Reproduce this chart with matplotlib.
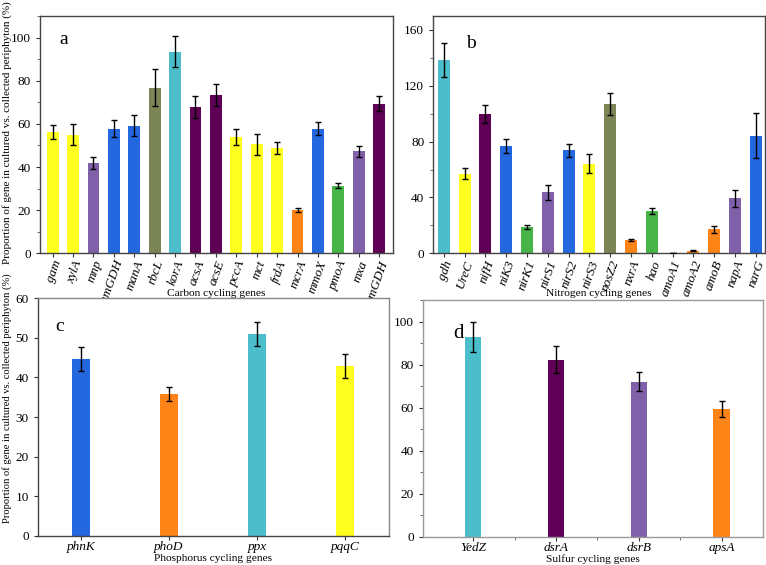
import numpy as np
import matplotlib
matplotlib.use("Agg")
import matplotlib.pyplot as plt
from matplotlib.ticker import MultipleLocator, FixedLocator

plt.rcParams['font.family'] = ['Liberation Serif', 'DejaVu Serif']

# colours used in the figure
Y = "#FFFF1F"
PU = "#8060A8"
BL = "#2468E0"
OL = "#7C8556"
CY = "#4BBDCB"
DP = "#5F0056"
OR = "#FF8418"
GR = "#47B447"

# a - carbon
carbon_genes = ["gam", "xylA", "mnp", "gmGDH", "manA", "rbcL", "korA", "acsA", "acsE",
                "pccA", "mct", "frdA", "mcrA", "mmoX", "pmoA", "mxa", "emGDH"]
carbon_vals = [56.2, 55.0, 41.8, 57.8, 59.2, 76.8, 93.5, 67.8, 73.3,
               53.8, 50.5, 48.8, 20.2, 57.8, 31.4, 47.2, 69.4]
carbon_err = [3.3, 5.0, 2.7, 4.0, 5.0, 8.6, 7.2, 5.2, 5.0,
              3.6, 5.0, 3.0, 1.0, 3.0, 1.3, 2.6, 3.3]
carbon_cols = [Y, Y, PU, BL, BL, OL, CY, DP, DP, Y, Y, Y, OR, BL, GR, PU, DP]

# b - nitrogen
nitro_genes = ["gdh", "UreC", "nifH", "niK3", "nirK1", "nirS1", "nirS2", "nirS3", "nosZ2",
               "nxrA", "hao", "amoA1", "amoA2", "amoB", "napA", "narG"]
nitro_vals = [138.6, 57.1, 99.7, 76.6, 18.8, 43.8, 73.8, 64.3, 106.9,
              9.3, 30.2, 0.0, 2.0, 17.1, 39.3, 84.3]
nitro_err = [12.0, 4.0, 6.7, 5.0, 1.5, 5.3, 4.8, 7.0, 8.0,
             0.6, 2.0, 0.0, 0.5, 2.2, 5.8, 16.3]
nitro_cols = [CY, Y, DP, BL, GR, PU, BL, Y, OL, OR, GR, OR, OR, OR, PU, BL]

# c - phosphorus
phos_genes = ["phnK", "phoD", "ppx", "pqqC"]
phos_vals = [44.6, 35.8, 51.0, 42.9]
phos_err = [3.0, 1.7, 3.1, 3.1]
phos_cols = [BL, OR, CY, Y]

# d - sulfur
sulf_genes = ["YedZ", "dsrA", "dsrB", "apsA"]
sulf_vals = [92.9, 82.3, 72.1, 59.4]
sulf_err = [7.0, 6.3, 4.5, 3.7]
sulf_cols = [CY, DP, PU, OR]

W, H = 766, 565
fig = plt.figure(figsize=(W / 100, H / 100), dpi=100)
ylab = "Proportion of gene in cultured vs. collected periphyton (%)"


def px_axes(x0, y0, x1, y1):
    # pixel box (left, top, right, bottom) -> figure axes
    return fig.add_axes([x0 / W, (H - y1) / H, (x1 - x0) / W, (y1 - y0) / H])


def panel(ax, genes, vals, errs, cols, width, frame, tick_fs, rot):
    x = np.arange(len(genes))
    ax.bar(x, vals, width=width, color=cols, zorder=2)
    ax.errorbar(x, vals, yerr=errs, fmt="none", ecolor="black", elinewidth=1,
                capsize=2.5, capthick=1, zorder=3)
    ax.set_xticks(x)
    if rot:
        ax.set_xticklabels(genes, rotation=70, ha="right", rotation_mode="anchor",
                           style="italic", fontsize=tick_fs)
    else:
        ax.set_xticklabels(genes, style="italic", fontsize=tick_fs)
    for s in ax.spines.values():
        s.set_color(frame)
        s.set_linewidth(1.0)
    ax.tick_params(axis="both", direction="out", color="#333333", labelsize=9.5, length=3)
    ax.tick_params(axis="x", labelsize=tick_fs, pad=1.0)
    ax.tick_params(which="minor", length=2, color="#555555")
    return x


# panel a
ax_a = px_axes(40, 16, 393, 253.3)
panel(ax_a, carbon_genes, carbon_vals, carbon_err, carbon_cols, 0.58, "#444444", 9.5, True)
ax_a.set_xlim(-0.62, 16.68)
ax_a.set_ylim(0, 110)
ax_a.yaxis.set_major_locator(MultipleLocator(20))
ax_a.yaxis.set_minor_locator(MultipleLocator(10))
ax_a.set_ylabel(ylab, fontsize=8.0)
ax_a.yaxis.set_label_coords(-0.08, 0.51)
ax_a.set_xlabel("Carbon cycling genes", fontsize=8.2)
ax_a.xaxis.set_label_coords(0.5, -0.152)
ax_a.text(0.055, 0.9, "a", transform=ax_a.transAxes, fontsize=14, va="center")

# panel b
ax_b = px_axes(433.3, 16, 765, 253.3)
panel(ax_b, nitro_genes, nitro_vals, nitro_err, nitro_cols, 0.58, "#444444", 9.5, True)
ax_b.set_xlim(-0.51, 15.45)
ax_b.set_ylim(0, 170)
ax_b.yaxis.set_major_locator(MultipleLocator(40))
ax_b.yaxis.set_minor_locator(MultipleLocator(20))
ax_b.set_xlabel("Nitrogen cycling genes", fontsize=8.2)
ax_b.xaxis.set_label_coords(0.5, -0.152)
ax_b.text(0.1, 0.885, "b", transform=ax_b.transAxes, fontsize=14, va="center")

# panel c
ax_c = px_axes(37.7, 298.3, 389, 535.7)
panel(ax_c, phos_genes, phos_vals, phos_err, phos_cols, 0.2, "#888888", 9.5, False)
ax_c.set_xlim(-0.49, 3.5)
ax_c.set_ylim(0, 60)
ax_c.yaxis.set_major_locator(MultipleLocator(10))
ax_c.set_ylabel(ylab, fontsize=7.6)
ax_c.yaxis.set_label_coords(-0.072, 0.58)
ax_c.set_xlabel("Phosphorus cycling genes", fontsize=8.2)
ax_c.xaxis.set_label_coords(0.5, -0.075)
ax_c.text(0.05, 0.88, "c", transform=ax_c.transAxes, fontsize=14, va="center")
ax_c.spines["left"].set_color("#444444")
ax_c.spines["bottom"].set_color("#444444")

# panel d
ax_d = px_axes(422.7, 300, 763, 536.7)
panel(ax_d, sulf_genes, sulf_vals, sulf_err, sulf_cols, 0.2, "#999999", 9.5, False)
ax_d.set_xlim(-0.61, 3.5)
ax_d.set_ylim(0, 110)
ax_d.yaxis.set_major_locator(MultipleLocator(20))
ax_d.yaxis.set_minor_locator(MultipleLocator(10))
ax_d.xaxis.set_minor_locator(FixedLocator([0.5, 1.5, 2.5]))
ax_d.set_xlabel("Sulfur cycling genes", fontsize=8.2)
ax_d.xaxis.set_label_coords(0.5, -0.075)
ax_d.text(0.09, 0.86, "d", transform=ax_d.transAxes, fontsize=15, va="center")

fig.savefig("out.png", dpi=100)
